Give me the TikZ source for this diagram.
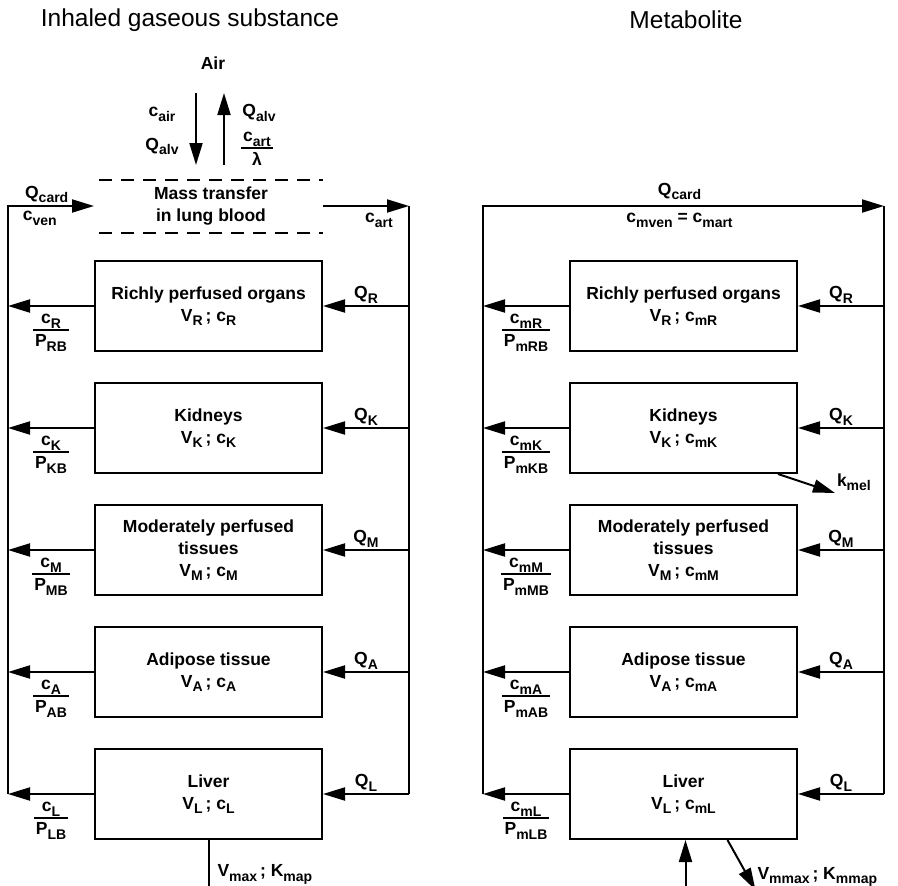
\documentclass[tikz,border=0pt]{standalone}
\usepackage{fontspec}
\setmainfont{Liberation Sans}
\usetikzlibrary{arrows.meta,chains,positioning}

% quantity with a lowered index, e.g. \ix{Q}{card}
\newcommand{\ix}[2]{#1\raisebox{-0.5ex}{\fontsize{14}{14}\selectfont #2}}
% partition ratio written as a stacked fraction
\newcommand{\ratio}[2]{\begin{tabular}{@{\hspace{2pt}}c@{\hspace{2pt}}}#1\\[-1pt]\hline\rule{0pt}{16pt}#2\end{tabular}}
\setlength{\arrayrulewidth}{1.8pt}

\begin{document}
\begin{tikzpicture}[%
    x=1pt, y=-1pt,              % work in page points, top-down
    >={Triangle[length=22pt,width=13pt]},
    line width=2pt,
    node distance=30pt,         % gap between organ boxes
    every node/.style={font=\fontsize{17.5}{22}\selectfont\bfseries},
    ]
% -------------------------------------------------
% Styles
\tikzset{
  organ/.style={draw, on chain, minimum width=227pt, minimum height=90pt,
    align=center, inner sep=2pt},
  lungbox/.style={minimum width=222pt, minimum height=51pt, align=center},
  flow/.style={->},
  dashedge/.style={dash pattern=on 13pt off 9pt},
  title/.style={font=\fontsize{24.5}{26}\selectfont},
  lbl/.style={inner sep=2pt},
}
\useasboundingbox (0,0) rectangle (898,886);

% -------------------------------------------------
% Parent compound
\node[title] (ttlgas) at (190,20) {Inhaled gaseous substance};
\node (air) at (213,63) {Air};

\coordinate (inhale) at (196,93);
\coordinate (exhale) at (224,93);
\draw[flow] (inhale) -- ++(0,72)
  node[pos=0.3, xshift=-34pt] {\ix{c}{air}}
  node[pos=0.74, xshift=-34pt] {\ix{Q}{alv}};
\draw[flow] (exhale) ++(0,72) -- (exhale)
  node[pos=0.72, xshift=35pt] {\ix{Q}{alv}}
  node[pos=0.22, xshift=33pt] {\ratio{\ix{c}{art}}{λ}};

\node[lungbox] (lung) at (211,206) {Mass transfer\\in lung blood};
\draw[dashedge] (lung.north west) -- (lung.north east);
\draw[dashedge] (lung.south west) -- (lung.south east);

\begin{scope}[start chain=gas going below]
  \node[organ] (g1) at (208.5,306) {Richly perfused organs\\\ix{V}{R}\,;\ \ix{c}{R}};
  \node[organ] (g2) {Kidneys\\\ix{V}{K}\,;\ \ix{c}{K}};
  \node[organ] (g3) {Moderately perfused\\tissues\\\ix{V}{M}\,;\ \ix{c}{M}};
  \node[organ] (g4) {Adipose tissue\\\ix{V}{A}\,;\ \ix{c}{A}};
  \node[organ] (g5) {Liver\\\ix{V}{L}\,;\ \ix{c}{L}};
\end{scope}

\coordinate (ven) at (8,206);
\coordinate (art) at (409,206);
\draw[flow] (ven |- g5) -- (ven) -- ([xshift=-5pt]lung.west)
  node[pos=0.45, above, lbl] {\ix{Q}{card}}
  node[pos=0.37, below=2pt, lbl] {\ix{c}{ven}};
\draw[flow] (lung.east) -- (art)
  node[pos=0.65, below=4pt, lbl] {\ix{c}{art}};
\draw (art) -- (art |- g5);

\foreach \i/\o in {1/R,2/K,3/M,4/A,5/L}{
  \draw[flow] (art |- g\i) -- node[above, lbl] {\ix{Q}{\o}} (g\i.east);
  \draw[flow] (g\i.west) -- node[below=-1pt, lbl] {\ratio{\ix{c}{\o}}{\ix{P}{\o B}}} (ven |- g\i);
}

\draw (g5.south) -- ++(0,54)
  node[pos=0.64, right=6pt, lbl] {\ix{V}{max}\,;\ \ix{K}{map}};

% -------------------------------------------------
% Metabolite
\node[title] (ttlmet) at (686,20) {Metabolite};

\begin{scope}[start chain=met going below]
  \node[organ] (m1) at (683.5,306) {Richly perfused organs\\\ix{V}{R}\,;\ \ix{c}{mR}};
  \node[organ] (m2) {Kidneys\\\ix{V}{K}\,;\ \ix{c}{mK}};
  \node[organ] (m3) {Moderately perfused\\tissues\\\ix{V}{M}\,;\ \ix{c}{mM}};
  \node[organ] (m4) {Adipose tissue\\\ix{V}{A}\,;\ \ix{c}{mA}};
  \node[organ] (m5) {Liver\\\ix{V}{L}\,;\ \ix{c}{mL}};
\end{scope}

\coordinate (mven) at (483,206);
\coordinate (mart) at (884,206);
\draw[flow] (mven |- m5) -- (mven) -- (mart)
  node[pos=0.49, above=3pt, lbl] {\ix{Q}{card}}
  node[pos=0.49, below=4pt, lbl] {\ix{c}{mven} = \ix{c}{mart}};
\draw (mart) -- (mart |- m5);

\foreach \i/\o in {1/R,2/K,3/M,4/A,5/L}{
  \draw[flow] (mart |- m\i) -- node[above, lbl] {\ix{Q}{\o}} (m\i.east);
  \draw[flow] (m\i.west) -- node[below=-1pt, lbl] {\ratio{\ix{c}{m\o}}{\ix{P}{m\o B}}} (mven |- m\i);
}

% renal excretion and hepatic metabolism
\draw[flow] ([xshift=-20pt]m2.south east) -- ++(57,19)
  node[anchor=south west, inner sep=1pt] {\ix{k}{mel}};
\draw[flow] (m5.south) ++(2,54) -- ([xshift=2pt]m5.south);
\draw[flow] ([xshift=44pt]m5.south) -- ++(28,50)
  coordinate (mmet);
\node[anchor=west, lbl] (mmetlbl) at ([xshift=-1pt, yshift=13pt]mmet) {\ix{V}{mmax}\,;\ \ix{K}{mmap}};
\end{tikzpicture}
\end{document}
